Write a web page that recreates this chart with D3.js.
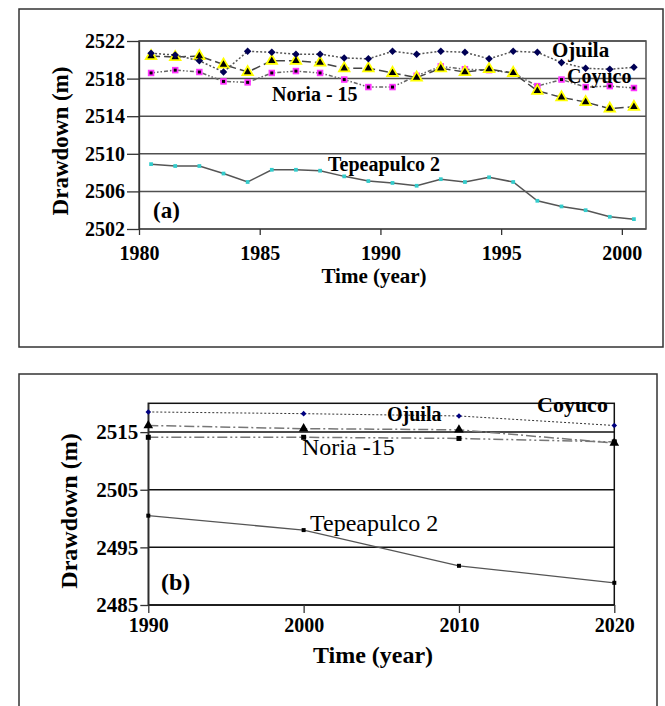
<!DOCTYPE html>
<meta charset="utf-8">
<html>
<head>
<style>
 body { margin: 0; background: #fff; }
 svg text { font-family: "Liberation Serif", "Times New Roman", Times, "DejaVu Serif", serif !important; fill: #000; }
 .frame { fill: none; stroke: #333; stroke-width: 1.5px; }
 .plotbox { fill: none; stroke: #555; stroke-width: 1.5px; }
 .grid line { stroke: #4d4d4d; stroke-width: 1.5px; }
 .axis path, .axis line { stroke: #333; stroke-width: 1.3px; }
 .axis text { font-weight: bold; font-size: 20px; }
 .title { font-weight: bold; }
</style>
<script src="https://d3js.org/d3.v7.min.js"></script>
</head>
<body>
<svg id="chart" width="665" height="706" font-family="Liberation Serif, serif"></svg>
<script>
 // ---- panel (a) data, 1980-2000 ----
 var yearsA = [1980.5, 1981.5, 1982.5, 1983.5, 1984.5, 1985.5, 1986.5, 1987.5, 1988.5, 1989.5, 1990.5,
               1991.5, 1992.5, 1993.5, 1994.5, 1995.5, 1996.5, 1997.5, 1998.5, 1999.5, 2000.5];
 var ojuilaA = [2520.7, 2520.5, 2519.9, 2518.7, 2520.9, 2520.8, 2520.6, 2520.6, 2520.2, 2520.1, 2520.9,
                2520.6, 2520.9, 2520.8, 2520.1, 2520.9, 2520.8, 2519.7, 2519.1, 2519.0, 2519.2];
 var coyucoA = [2520.4, 2520.3, 2520.4, 2519.5, 2518.7, 2519.9, 2519.9, 2519.7, 2519.1, 2519.1, 2518.6,
                2518.1, 2519.1, 2518.7, 2519.0, 2518.6, 2516.7, 2516.0, 2515.5, 2514.8, 2515.0];
 var noriaA = [2518.6, 2518.9, 2518.7, 2517.7, 2517.6, 2518.6, 2518.8, 2518.6, 2517.9, 2517.1, 2517.1,
               2518.3, 2519.3, 2519.0, 2518.9, 2518.6, 2517.2, 2517.9, 2517.1, 2517.2, 2517.0];
 var tepeA = [2508.9, 2508.7, 2508.7, 2507.9, 2507.0, 2508.3, 2508.3, 2508.2, 2507.6, 2507.1, 2506.9,
              2506.6, 2507.3, 2507.0, 2507.5, 2507.0, 2505.0, 2504.4, 2504.0, 2503.3, 2503.05];
 var xTicksA = [1980, 1985, 1990, 1995, 2000];
 var yTicksA = [2502, 2506, 2510, 2514, 2518, 2522];

 // ---- panel (b) data, projection 1990-2020 ----
 var yearsB = [1990, 2000, 2010, 2020];
 var ojuilaB = [2518.5, 2518.2, 2517.8, 2516.15];
 var coyucoB = [2516.15, 2515.6, 2515.4, 2513.1];
 var noriaB = [2514.1, 2514.1, 2513.9, 2513.3];
 var tepeB = [2500.5, 2498.0, 2491.8, 2488.85];
 var xTicksB = [1990, 2000, 2010, 2020];
 var yTicksB = [2485, 2495, 2505, 2515];

 var serif = "'Liberation Serif', 'Times New Roman', Times, serif";
 var svg = d3.select("#chart");

 // outer frames
 svg.append("rect").attr("class", "frame")
    .attr("x", 19).attr("y", 9).attr("width", 644).attr("height", 338);
 svg.append("rect").attr("class", "frame")
    .attr("x", 19).attr("y", 374).attr("width", 638).attr("height", 345);

 function zip(xs, ys) {
   return xs.map(function(x, i) { return [x, ys[i]]; });
 }

 function drawPanel(p) {
   var g = svg.append("g");
   var x = p.x, y = p.y;
   var x0 = x.range()[0], x1 = x.range()[1];

   g.append("g").attr("class", "grid")
    .selectAll("line").data(p.yTicks).enter().append("line")
    .attr("x1", x0).attr("x2", x1)
    .attr("y1", function(d) { return y(d); })
    .attr("y2", function(d) { return y(d); })
    .style("stroke", p.gridColor);

   g.append("rect").attr("class", "plotbox")
    .attr("x", x0).attr("y", y.range()[1])
    .attr("width", x1 - x0).attr("height", y.range()[0] - y.range()[1])
    .style("stroke", p.gridColor);

   var ya = g.append("g").attr("class", "axis")
    .attr("transform", "translate(" + x0 + ",0)")
    .call(d3.axisLeft(y).tickValues(p.yTicks).tickFormat(d3.format("d"))
          .tickSize(p.yTickSize).tickPadding(2).tickSizeOuter(0));
   ya.attr("font-family", serif);
   ya.selectAll("text").style("font-size", p.yFont + "px").style("font-family", serif);

   var xa = g.append("g").attr("class", "axis")
    .attr("transform", "translate(0," + y.range()[0] + ")")
    .call(d3.axisBottom(x).tickValues(p.xTicks).tickFormat(d3.format("d"))
          .tickSize(p.xTickSize).tickPadding(p.xPad).tickSizeOuter(0));
   xa.attr("font-family", serif);
   xa.selectAll("text").style("font-family", serif);
   xa.select(".domain").remove();

   var line = d3.line()
     .x(function(d) { return x(d[0]); })
     .y(function(d) { return y(d[1]); });

   p.series.forEach(function(s) {
     var pts = zip(p.years, s.values);
     g.append("path").datum(pts)
      .attr("d", line)
      .style("fill", "none")
      .style("stroke", s.stroke)
      .style("stroke-width", s.width)
      .style("stroke-dasharray", s.dash);
     s.marks.forEach(function(m) {
       g.append("g").selectAll("path").data(pts).enter().append("path")
        .attr("transform", function(d) { return "translate(" + x(d[0]) + "," + y(d[1]) + ")"; })
        .attr("d", d3.symbol().type(m.type).size(m.size))
        .style("fill", m.fill)
        .style("stroke", m.stroke || "none")
        .style("stroke-width", 0.8);
     });
   });

   p.labels.forEach(function(l) {
     g.append("text").attr("x", l.x).attr("y", l.y)
      .style("font-family", serif)
      .style("font-size", l.size + "px")
      .style("font-weight", l.bold ? "bold" : "normal")
      .text(l.text);
   });

   g.append("text").attr("class", "title")
    .attr("x", p.xTitle[0]).attr("y", p.xTitle[1])
    .attr("text-anchor", "middle")
    .style("font-family", serif)
    .style("font-size", p.xTitle[2] + "px")
    .text("Time (year)");

   g.append("text").attr("class", "title")
    .attr("transform", "translate(" + p.yTitle[0] + "," + p.yTitle[1] + ") rotate(-90)")
    .attr("text-anchor", "middle")
    .style("font-family", serif)
    .style("font-size", p.yTitle[2] + "px")
    .text("Drawdown (m)");
 }

 drawPanel({
   x: d3.scaleLinear().domain([1980, 2001]).range([139, 646]),
   y: d3.scaleLinear().domain([2502, 2522]).range([229, 41]),
   years: yearsA, xTicks: xTicksA, yTicks: yTicksA,
   gridColor: "#505050", yTickSize: 12, yFont: 20, xTickSize: 6, xPad: 11,
   series: [
     { values: tepeA, stroke: "#555", width: 1.5, dash: null,
       marks: [{ type: d3.symbolSquare, size: 14, fill: "#33cccc" }] },
     { values: noriaA, stroke: "#666", width: 1.5, dash: "4,2,1.5,2,1.5,2",
       marks: [{ type: d3.symbolSquare, size: 42, fill: "#ff33ff" },
               { type: d3.symbolSquare, size: 9, fill: "#000" }] },
     { values: coyucoA, stroke: "#444", width: 1.5, dash: "9,4",
       marks: [{ type: d3.symbolTriangle, size: 80, fill: "#ffff00" },
               { type: d3.symbolTriangle, size: 24, fill: "#000" }] },
     { values: ojuilaA, stroke: "#555", width: 1.5, dash: "2,2",
       marks: [{ type: d3.symbolDiamond2, size: 36, fill: "#000055" }] }
   ],
   labels: [
     { text: "Ojuila", x: 552, y: 57, size: 21, bold: true },
     { text: "Coyuco", x: 567, y: 83, size: 20, bold: true },
     { text: "Noria - 15", x: 272, y: 101, size: 20, bold: true },
     { text: "Tepeapulco 2", x: 328, y: 171, size: 20, bold: true },
     { text: "(a)", x: 153, y: 218, size: 23, bold: true }
   ],
   xTitle: [374, 283, 21],
   yTitle: [68, 141, 23]
 });

 drawPanel({
   x: d3.scaleLinear().domain([1990, 2020]).range([148.3, 614.3]),
   y: d3.scaleLinear().domain([2485, 2520]).range([605, 403.3]),
   years: yearsB, xTicks: xTicksB, yTicks: yTicksB,
   gridColor: "#111", yTickSize: 8, yFont: 21, xTickSize: 8, xPad: 5,
   series: [
     { values: tepeB, stroke: "#555", width: 1.3, dash: null,
       marks: [{ type: d3.symbolSquare, size: 16, fill: "#000" }] },
     { values: noriaB, stroke: "#777", width: 1.5, dash: "10,3,2,3,2,3",
       marks: [{ type: d3.symbolSquare, size: 25, fill: "#000" }] },
     { values: coyucoB, stroke: "#777", width: 1.5, dash: "10,3,2,3",
       marks: [{ type: d3.symbolTriangle, size: 40, fill: "#000" }] },
     { values: ojuilaB, stroke: "#333", width: 1, dash: "2,2",
       marks: [{ type: d3.symbolDiamond2, size: 20, fill: "#000080" }] }
   ],
   labels: [
     { text: "Ojuila", x: 387, y: 421, size: 20, bold: true },
     { text: "Coyuco", x: 537, y: 412, size: 22, bold: true },
     { text: "Noria -15", x: 302, y: 455, size: 24, bold: false },
     { text: "Tepeapulco  2", x: 310, y: 531, size: 24, bold: false },
     { text: "(b)", x: 161, y: 590, size: 24, bold: true }
   ],
   xTitle: [373, 663, 24],
   yTitle: [77, 511, 24]
 });
</script>
</body>
</html>
